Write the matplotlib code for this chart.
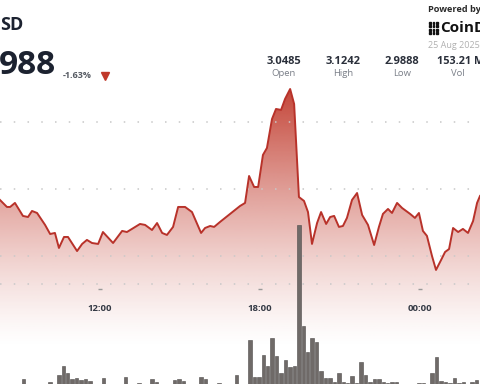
import numpy as np
import matplotlib
matplotlib.use("Agg")
import matplotlib.pyplot as plt
from matplotlib.patches import Polygon

plt.rcParams['font.family'] = ['Open Sans', 'DejaVu Sans']

# price path (hours since 24 Aug 00:00, XRP/USD)
hours = [8.25, 8.51, 8.63, 8.81, 9.11, 9.30, 9.45, 9.64, 9.94, 10.13,
         10.31, 10.46, 10.65, 10.80, 11.14, 11.33, 11.51, 11.70, 11.93, 12.11,
         12.49, 12.83, 13.01, 13.50, 13.69, 13.95, 14.14, 14.33, 14.51, 14.74,
         14.93, 15.19, 15.45, 15.79, 15.94, 16.13, 16.28, 16.50, 17.25, 17.44,
         17.59, 17.78, 17.93, 18.11, 18.26, 18.45, 18.60, 18.79, 18.94, 19.13,
         19.28, 19.46, 19.65, 19.80, 19.95, 20.14, 20.29, 20.48, 20.63, 20.78,
         20.96, 21.11, 21.26, 21.45, 21.64, 21.83, 22.05, 22.28, 22.46, 22.61,
         22.80, 22.95, 23.14, 23.33, 23.63, 23.81, 23.96, 24.11, 24.26, 24.45,
         24.60, 24.79, 24.94, 25.09, 25.24, 25.43, 25.61, 25.80, 25.99, 26.14,
         26.25]
prices = [3.0418, 3.0366, 3.0366, 3.0396, 3.0299, 3.0291, 3.0336, 3.0321, 3.0232, 3.0164,
          3.0172, 3.0060, 3.0142, 3.0142, 3.0037, 3.0090, 3.0120, 3.0097, 3.0090, 3.0179,
          3.0097, 3.0187, 3.0179, 3.0239, 3.0232, 3.0194, 3.0246, 3.0172, 3.0157, 3.0217,
          3.0366, 3.0366, 3.0328, 3.0172, 3.0209, 3.0224, 3.0217, 3.0254, 3.0373, 3.0396,
          3.0597, 3.0515, 3.0515, 3.0754, 3.0806, 3.1022, 3.1097, 3.1090, 3.1172, 3.1246,
          3.1134, 3.0440, 3.0411, 3.0328, 3.0090, 3.0246, 3.0328, 3.0239, 3.0291, 3.0299,
          3.0217, 3.0224, 3.0284, 3.0418, 3.0470, 3.0306, 3.0232, 3.0082, 3.0217, 3.0314,
          3.0351, 3.0321, 3.0396, 3.0358, 3.0314, 3.0284, 3.0321, 3.0187, 3.0150, 3.0000,
          2.9896, 2.9970, 3.0030, 3.0052, 3.0209, 3.0179, 3.0202, 3.0172, 3.0261, 3.0396,
          3.0448]

# 10 minute volume bars, millions
vol_start = 8.29
volumes = [0.5, 0.5, 0.5, 0.5, 0.5, 1.3, 0.5, 0.5, 0.5, 0.5,
           0.5, 1.0, 0.5, 1.7, 2.6, 1.9, 1.3, 1.4, 1.2, 1.3,
           1.1, 0.5, 0.5, 1.4, 0.5, 0.5, 0.5, 0.5, 1.5, 0.5,
           0.5, 0.9, 0.5, 0.5, 1.3, 1.0, 0.5, 0.5, 0.5, 1.2,
           1.3, 1.1, 0.5, 0.5, 0.5, 1.5, 1.3, 0.5, 0.5, 0.9,
           0.5, 0.5, 0.5, 1.7, 0.5, 0.5, 5.2, 1.5, 1.5, 3.7,
           2.6, 5.4, 3.6, 1.9, 3.2, 2.5, 2.6, 16.7, 6.6, 4.0,
           5.4, 5.0, 2.1, 1.4, 1.4, 1.0, 1.9, 1.0, 0.9, 1.6,
           0.9, 3.0, 1.7, 1.0, 1.3, 1.3, 1.0, 0.9, 1.0, 1.0,
           0.6, 0.6, 0.6, 0.7, 0.9, 0.9, 0.6, 1.9, 3.5, 1.1,
           1.0, 0.9, 1.4, 0.9, 1.0, 0.6, 1.0, 1.2]

tick_hours = [12, 18, 24]
tick_labels = ['12:00', '18:00', '00:00']
grid_prices = [3.10, 3.05, 3.00]

stat_values = ['3.0485', '3.1242', '2.9888', '153.21 M']
stat_names = ['Open', 'High', 'Low', 'Vol']

W, H = 480, 384
fig = plt.figure(figsize=(4.8, 3.84), dpi=100)
fig.patch.set_facecolor('white')

xlim = (8.25, 26.25)
ylim = (2.9045, 3.191)
base = 2.9314

ax = fig.add_axes([0, 0, 1, 1])
ax.set_xlim(*xlim)
ax.set_ylim(*ylim)
ax.axis('off')

# gradient fill under the price line
n = 256
grad = np.zeros((n, 1, 4))
c = matplotlib.colors.to_rgb('#c0392b')
grad[:, 0, 0], grad[:, 0, 1], grad[:, 0, 2] = c
grad[:, 0, 3] = np.linspace(0.0, 0.95, n) ** 1.3
top = max(prices)
im = ax.imshow(grad, extent=[xlim[0], xlim[1], base, top], aspect='auto',
               origin='lower', zorder=1)
verts = [(xlim[0], base)] + list(zip(hours, prices)) + [(xlim[1], base)]
poly = Polygon(verts, closed=True, facecolor='none', edgecolor='none')
ax.add_patch(poly)
im.set_clip_path(poly)
ax.set_xlim(*xlim)
ax.set_ylim(*ylim)

for gp in grid_prices + [2.9791]:
    ax.axhline(gp, color='#c8c8c8', lw=1.1, ls=(0, (1, 8)), zorder=2)

# volume bars (their base sits just below the visible area)
axv = fig.add_axes([0, 0, 1, 1], sharex=ax)
axv.set_ylim(0.8, 39.2)
axv.axis('off')
bar_t = vol_start + np.arange(len(volumes)) / 6
axv.bar(bar_t, volumes, width=0.13, color='#6f6a68', edgecolor='#4f4b4a',
        lw=0.4, zorder=3)

# price line
axl = fig.add_axes([0, 0, 1, 1], sharex=ax, sharey=ax)
axl.axis('off')
axl.plot(hours, prices, color='#b8322a', lw=1.4, zorder=4)
axl.set_xlim(*xlim)
axl.set_ylim(*ylim)

for th, tl in zip(tick_hours, tick_labels):
    axl.plot([th], [2.9754], marker='_', ms=3, color='#9a9a9a')
    axl.text(th, 2.9610, tl, ha='center', va='center', fontsize=6.8,
             fontweight='bold', color='#343944')


def px(x, y):
    return x / W, 1 - y / H


# header (left part of the card is cropped away)
fig.text(*px(0, 25), 'SD', ha='left', va='center', fontsize=13,
         fontweight='bold', color='#1c2230')
fig.text(*px(-1, 66), '988', ha='left', va='center', fontsize=24,
         fontweight='bold', color='#1c2230')
fig.text(*px(63, 76), '-1.63%', ha='left', va='center', fontsize=6.5,
         fontweight='bold', color='#555a62')
fig.lines.append(plt.Line2D([105 / W], [1 - 76 / H], marker='v', ms=6,
                            color='#c0392b', transform=fig.transFigure))

stat_x = [284, 343, 402, 458]
for sx, sv, sn in zip(stat_x, stat_values, stat_names):
    if sn == 'Vol':
        fig.text(*px(437, 61), sv, ha='left', va='center', fontsize=7.8,
                 fontweight='bold', color='#2a2f3a')
    else:
        fig.text(*px(sx, 61), sv, ha='center', va='center', fontsize=8,
                 fontweight='bold', color='#2a2f3a')
    fig.text(*px(sx, 74), sn, ha='center', va='center', fontsize=6.8,
             color='#7a7f88')

fig.text(*px(428, 9), 'Powered by', ha='left', va='center', fontsize=6.6,
         fontweight='bold', color='#2a2a2a')
fig.text(*px(440, 28), 'CoinD', ha='left', va='center', fontsize=11,
         fontweight='bold', color='#111111')
# little logo mark
for lx in (429, 432.5, 436):
    for ly in (22, 25.5, 29, 32.5):
        fig.patches.append(plt.Rectangle(px(lx, ly + 1.5), 1.6 / W, 1.6 / H,
                                         color='#111111',
                                         transform=fig.transFigure))
fig.text(*px(428, 45), '25 Aug 2025', ha='left', va='center', fontsize=6.5,
         color='#b0b0b0')

fig.savefig('out.png', dpi=100)
